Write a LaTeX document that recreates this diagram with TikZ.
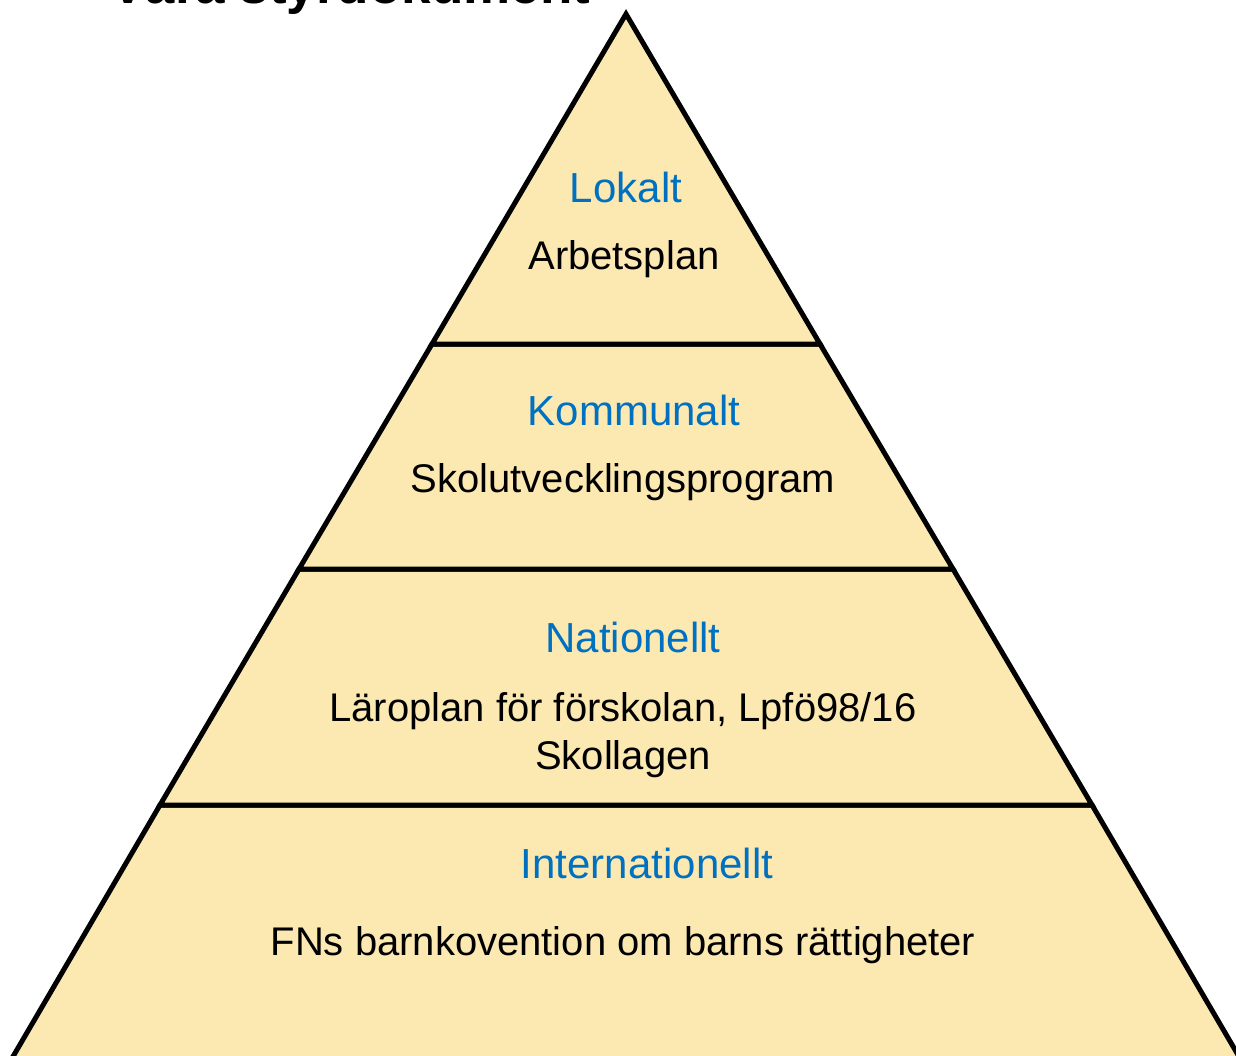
\documentclass[tikz,border=0pt]{standalone}
\usepackage{fontspec}
\setmainfont{Liberation Sans}
\definecolor{layerfill}{RGB}{252,233,178}
\definecolor{headblue}{RGB}{0,112,192}
\begin{document}
\begin{tikzpicture}[x=1pt,y=-1pt,
  layer/.style={fill=layerfill,draw=black,line width=5pt,line join=miter},
  head/.style={anchor=base,text=headblue,font=\fontsize{42}{48}\selectfont,inner sep=0pt},
  body/.style={anchor=base,text=black,font=\fontsize{40}{48}\selectfont,inner sep=0pt,align=center},
  title/.style={anchor=base west,font=\bfseries\fontsize{53}{58}\selectfont,inner sep=0pt}]
\useasboundingbox (0,0) rectangle (1236,1056);
\begin{scope}
\clip (0,0) rectangle (1236,1056);
\node[title] (t) at (110,4) {Våra styrdokument};
% layers (bottom to top)
\path[layer] (160,805) -- (1092,805) -- (1241,1060) -- (11,1060) -- cycle;
\path[layer] (299,569) -- (953,569) -- (1092,805) -- (160,805) -- cycle;
\path[layer] (432,344) -- (820,344) -- (953,569) -- (299,569) -- cycle;
\path[layer] (626,14) -- (820,344) -- (432,344) -- cycle;
\end{scope}
\node[head] (lok) at (626,203) {Lokalt};
\node[body] (arb) at (624,270) {Arbetsplan};
\node[head] (kom) at (634,425) {Kommunalt};
\node[body] (sko) at (623,492) {Skolutvecklingsprogram};
\node[head] (nat) at (633,652) {Nationellt};
\node[body] (lar) at (623,721) {Läroplan för förskolan, Lpfö98/16};
\node[body] (skl) at (623,769) {Skollagen};
\node[head] (int) at (647,878) {Internationellt};
\node[body] (fns) at (623,955) {FNs barnkovention om barns rättigheter};
\end{tikzpicture}
\end{document}
